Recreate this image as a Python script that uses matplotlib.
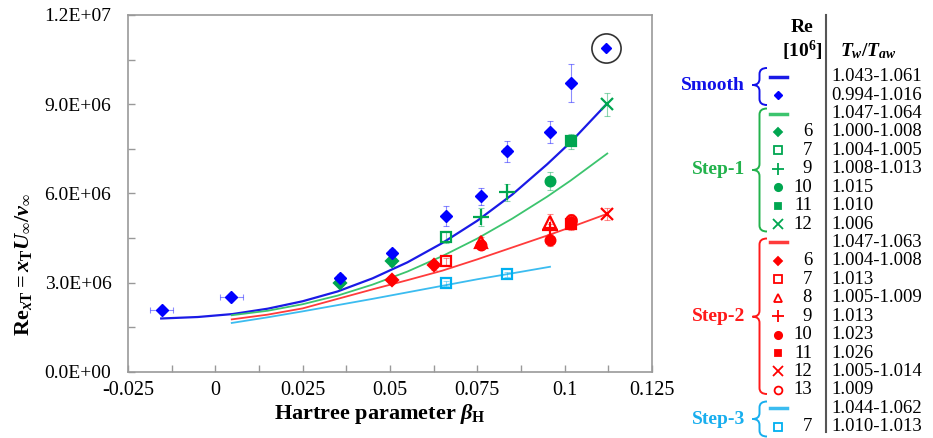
import matplotlib.pyplot as plt
import numpy as np
from matplotlib.ticker import MultipleLocator, FuncFormatter
from matplotlib.path import Path
from matplotlib.patches import PathPatch

plt.rcParams['font.family'] = 'Liberation Serif'
plt.rcParams['mathtext.fontset'] = 'custom'
plt.rcParams['mathtext.rm'] = 'Liberation Serif:bold'
plt.rcParams['mathtext.it'] = 'Liberation Serif:italic:bold'
plt.rcParams['mathtext.bf'] = 'Liberation Serif:bold'

# transition Reynolds number data (values in millions)
smooth_x = [-0.0154, 0.0046, 0.0357, 0.0505, 0.0659, 0.0761, 0.0835, 0.0958, 0.1017]
smooth_y = [2.07, 2.52, 3.14, 3.98, 5.23, 5.90, 7.41, 8.06, 9.71]
smooth_yerr = [0.0, 0.0, 0.15, 0.14, 0.34, 0.28, 0.36, 0.38, 0.63]
smooth_xerr = [0.0032, 0.0033, 0.0, 0.0, 0.0, 0.0, 0.0011, 0.0, 0.0]
outlier_x = [0.1118]
outlier_y = [10.90]

step1_x = [0.0357, 0.0505, 0.0659, 0.0761, 0.0835, 0.0958, 0.1017, 0.1121]
step1_y = [2.99, 3.72, 4.54, 5.21, 6.03, 6.42, 7.75, 8.99]
step1_yerr = [0.12, 0.15, 0.20, 0.30, 0.30, 0.31, 0.26, 0.39]
step1_re = [6, 6, 7, 9, 9, 10, 11, 12]

step2_x = [0.0505, 0.0626, 0.0659, 0.0761, 0.0761, 0.0958, 0.0958, 0.0958, 0.1017, 0.1017, 0.1017, 0.1121]
step2_y = [3.09, 3.58, 3.72, 4.37, 4.27, 5.04, 4.76, 4.42, 5.12, 5.05, 4.96, 5.30]
step2_yerr = [0.10, 0.15, 0.12, 0.15, 0.15, 0.25, 0.20, 0.20, 0.20, 0.20, 0.20, 0.20]
step2_re = [6, 6, 7, 8, 10, 8, 9, 10, 13, 10, 11, 12]

step3_x = [0.0659, 0.0835]
step3_y = [2.97, 3.28]
step3_yerr = [0.08, 0.08]
step3_re = [7, 7]

# correlation curves
smooth_fit_x = [-0.0155, -0.005, 0.005, 0.015, 0.025, 0.035, 0.045, 0.055, 0.065, 0.075, 0.085, 0.095, 0.1017, 0.1119]
smooth_fit_y = [1.79, 1.84, 1.94, 2.12, 2.37, 2.70, 3.14, 3.68, 4.33, 5.08, 5.96, 6.98, 7.72, 8.99]
step1_fit_x = [0.0047, 0.015, 0.025, 0.035, 0.045, 0.055, 0.065, 0.075, 0.085, 0.095, 0.1017, 0.1122]
step1_fit_y = [1.90, 2.05, 2.27, 2.56, 2.93, 3.37, 3.89, 4.48, 5.15, 5.89, 6.43, 7.34]
step2_fit_x = [0.0047, 0.015, 0.025, 0.035, 0.045, 0.055, 0.065, 0.075, 0.085, 0.095, 0.1017, 0.1119]
step2_fit_y = [1.76, 1.92, 2.13, 2.45, 2.77, 3.08, 3.40, 3.78, 4.18, 4.58, 4.86, 5.30]
step3_fit_x = [0.0047, 0.015, 0.025, 0.035, 0.045, 0.055, 0.065, 0.075, 0.085, 0.0958]
step3_fit_y = [1.64, 1.83, 2.03, 2.24, 2.45, 2.67, 2.89, 3.11, 3.31, 3.53]

# legend table
legend_groups = ['Smooth', 'Step-1', 'Step-2', 'Step-3']
legend_rows = [
    ('Smooth', 'line', '', '1.043-1.061'),
    ('Smooth', 'D', '', '0.994-1.016'),
    ('Step-1', 'line', '', '1.047-1.064'),
    ('Step-1', 6, '6', '1.000-1.008'),
    ('Step-1', 7, '7', '1.004-1.005'),
    ('Step-1', 9, '9', '1.008-1.013'),
    ('Step-1', 10, '10', '1.015'),
    ('Step-1', 11, '11', '1.010'),
    ('Step-1', 12, '12', '1.006'),
    ('Step-2', 'line', '', '1.047-1.063'),
    ('Step-2', 6, '6', '1.004-1.008'),
    ('Step-2', 7, '7', '1.013'),
    ('Step-2', 8, '8', '1.005-1.009'),
    ('Step-2', 9, '9', '1.013'),
    ('Step-2', 10, '10', '1.023'),
    ('Step-2', 11, '11', '1.026'),
    ('Step-2', 12, '12', '1.005-1.014'),
    ('Step-2', 13, '13', '1.009'),
    ('Step-3', 'line', '', '1.044-1.062'),
    ('Step-3', 7, '7', '1.010-1.013'),
]

colors = {'Smooth': '#0000FF', 'Step-1': '#00A650', 'Step-2': '#FF0000', 'Step-3': '#00B0F0'}
line_colors = {'Smooth': '#1A1AE6', 'Step-1': '#3CC46E', 'Step-2': '#FF3B3B', 'Step-3': '#3BBCF0'}
label_colors = {'Smooth': '#1010E8', 'Step-1': '#22B24C', 'Step-2': '#FF1A1A', 'Step-3': '#18AEEE'}

# marker style per Re: (marker, filled, size)
re_style = {6: ('D', True, 6), 7: ('s', False, 7), 8: ('^', False, 8), 9: ('+', True, 11),
            10: ('o', True, 7), 11: ('s', True, 6.5), 12: ('x', True, 9), 13: ('o', False, 7.5)}


def draw_points(ax, xs, ys, errs, res, color):
    xs = np.asarray(xs)
    ys = np.asarray(ys) * 1e6
    errs = np.asarray(errs) * 1e6
    res = np.asarray(res)
    ax.errorbar(xs, ys, yerr=errs, fmt='none', ecolor=color, elinewidth=0.8,
                capsize=2.5, capthick=0.8, alpha=0.45, zorder=3)
    for re in np.unique(res):
        m, filled, ms = re_style[int(re)]
        sel = res == re
        ax.plot(xs[sel], ys[sel], linestyle='none', marker=m, ms=ms,
                mfc=color if filled else 'none', mec=color, mew=1.6, zorder=4)


fig = plt.figure(figsize=(9.33, 4.38), dpi=100)
ax = fig.add_axes([128 / 933, 1 - 371.7 / 438, 524 / 933, 356.7 / 438])

ax.plot(smooth_fit_x, np.array(smooth_fit_y) * 1e6, color=line_colors['Smooth'], lw=1.6, zorder=2)
ax.plot(step1_fit_x, np.array(step1_fit_y) * 1e6, color=line_colors['Step-1'], lw=1.3, zorder=2)
ax.plot(step2_fit_x, np.array(step2_fit_y) * 1e6, color=line_colors['Step-2'], lw=1.3, zorder=2)
ax.plot(step3_fit_x, np.array(step3_fit_y) * 1e6, color=line_colors['Step-3'], lw=1.3, zorder=2)

ax.errorbar(smooth_x, np.array(smooth_y) * 1e6, yerr=np.array(smooth_yerr) * 1e6, xerr=smooth_xerr,
            fmt='none', ecolor=colors['Smooth'], elinewidth=0.8, capsize=2.5, capthick=0.8,
            alpha=0.45, zorder=3)
ax.plot(smooth_x, np.array(smooth_y) * 1e6, 'D', ms=6, color=colors['Smooth'], zorder=5)
ax.plot(outlier_x, np.array(outlier_y) * 1e6, 'D', ms=5, color=colors['Smooth'], zorder=5)
ax.plot(outlier_x, np.array(outlier_y) * 1e6, 'o', ms=21, mfc='none', mec='#333333', mew=1.2, zorder=5)

draw_points(ax, step1_x, step1_y, step1_yerr, step1_re, colors['Step-1'])
draw_points(ax, step2_x, step2_y, step2_yerr, step2_re, colors['Step-2'])
draw_points(ax, step3_x, step3_y, step3_yerr, step3_re, colors['Step-3'])

ax.set_xlim(-0.025, 0.125)
ax.set_ylim(0, 1.2e7)
ax.xaxis.set_major_locator(MultipleLocator(0.025))
ax.xaxis.set_minor_locator(MultipleLocator(0.0125))
ax.yaxis.set_major_locator(MultipleLocator(3e6))
ax.yaxis.set_minor_locator(MultipleLocator(1.5e6))
ax.xaxis.set_major_formatter(FuncFormatter(lambda v, p: f'{round(v, 4):g}'))
ax.yaxis.set_major_formatter(FuncFormatter(lambda v, p: f'{v:.1E}'))
ax.tick_params(which='both', direction='in', length=5, width=1, color='#999999')
ax.tick_params(axis='x', which='both', top=False, labelsize=14.5, pad=7)
ax.tick_params(axis='y', which='both', right=False, labelsize=14, pad=12)
for s in ax.spines.values():
    s.set_color('#9a9a9a')
    s.set_linewidth(1.2)

ax.set_ylabel(r'$\mathrm{Re}_{x\mathrm{T}} = x_{\mathrm{T}}U_{\infty}/\nu_{\infty}$', fontsize=16)
ax.yaxis.set_label_coords(-0.18, 0.30)
ax.set_xlabel(r'Hartree parameter $\beta_{\mathrm{H}}$', fontsize=16, fontweight='bold')
ax.xaxis.set_label_coords(0.48, -0.085)

# legend table drawn in pixel coordinates
lax = fig.add_axes([0, 0, 1, 1])
lax.set_xlim(0, 933)
lax.set_ylim(438, 0)
lax.axis('off')
lax.patch.set_visible(False)

lax.text(802, 28, 'Re', ha='center', va='center', fontsize=14, fontweight='bold')
lax.text(802, 51, r'[10$^{6}$]', ha='center', va='center', fontsize=14, fontweight='bold')
lax.text(868, 51, r'$T_w/T_{aw}$', ha='center', va='center', fontsize=14)
lax.plot([825.7, 825.7], [15, 432], color='#555555', lw=1.5)

row0, dy = 76.7, 18.42
for i, (grp, kind, re_txt, ratio) in enumerate(legend_rows):
    yy = row0 + i * dy
    c = colors[grp]
    if kind == 'line':
        lax.plot([770, 787], [yy, yy], color=line_colors[grp], lw=2.5)
    elif kind == 'D':
        lax.plot([778], [yy], 'D', ms=4, color=c)
    else:
        m, filled, ms = re_style[kind]
        lax.plot([778], [yy], marker=m, ms=ms * 0.75, mfc=c if filled else 'none', mec=c, mew=1.3)
    lax.text(812, yy, re_txt, ha='right', va='center', fontsize=13.5)
    lax.text(831, yy, ratio, ha='left', va='center', fontsize=13.5)


def brace(axl, yt, ym, yb, color, xt=752.5, xs=759.5, xe=767.0, r=6):
    verts = [(xe, yt), (xs, yt), (xs, yt + r), (xs, ym - r), (xs, ym), (xt, ym),
             (xs, ym), (xs, ym + r), (xs, yb - r), (xs, yb), (xe, yb)]
    codes = [Path.MOVETO, Path.CURVE3, Path.CURVE3, Path.LINETO, Path.CURVE3, Path.CURVE3,
             Path.CURVE3, Path.CURVE3, Path.LINETO, Path.CURVE3, Path.CURVE3]
    axl.add_patch(PathPatch(Path(verts, codes), fill=False, edgecolor=color, lw=1.4))


group_spans = {'Smooth': (68, 85, 105), 'Step-1': (108.5, 170, 231.5),
               'Step-2': (238.5, 316.7, 394), 'Step-3': (401.5, 419, 436.5)}
for grp in legend_groups:
    yt, ym, yb = group_spans[grp]
    brace(lax, yt, ym, yb, label_colors[grp])
    lax.text(745, ym, grp, ha='right', va='center', fontsize=14, fontweight='bold',
             color=label_colors[grp])

fig.savefig('out.png', dpi=100)
